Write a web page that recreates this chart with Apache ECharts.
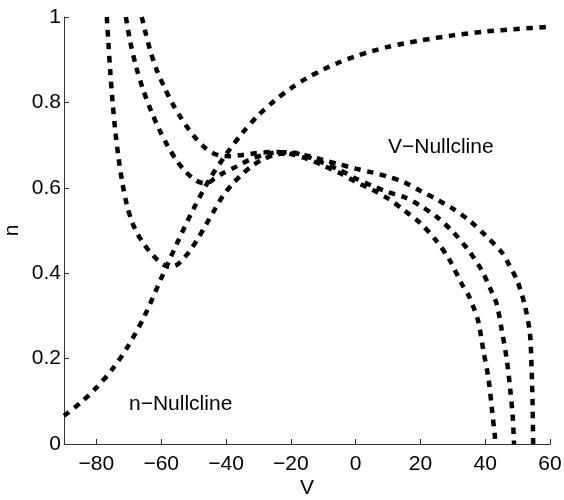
<!DOCTYPE html>
<html>
<head>
<meta charset="utf-8">
<script src="https://cdn.jsdelivr.net/npm/echarts@6/dist/echarts.min.js"></script>
<style>html,body{margin:0;padding:0;background:#fff}#c{width:564px;height:500px}</style>
</head>
<body>
<div id="c"></div>
<script>
// n-nullcline
const nNullV = [-90, -85, -80, -75, -70, -65, -60, -55, -50, -45, -40, -35, -30, -25, -20, -15, -10, -5, 0, 5, 10, 15, 20, 30, 40, 50, 60];
const nNullN = [0.066, 0.096, 0.132, 0.176, 0.232, 0.302, 0.388, 0.472, 0.551, 0.621, 0.678, 0.728, 0.77, 0.804, 0.833, 0.857, 0.877, 0.894, 0.908, 0.92, 0.93, 0.938, 0.945, 0.957, 0.966, 0.972, 0.977];

// V-nullcline A (lowest minimum, crosses n=0 near 55)
const vA = [-76.8, -76.3, -75.7, -75.0, -74.2, -73.2, -72.0, -70.6, -69.0, -67.3, -65.5, -63.5, -61, -59, -57.3, -55.5, -53.7, -51.5, -49, -46, -43.4, -40.8, -38, -35, -32, -29, -25, -20, -15, -10, -5, 0, 5, 10, 15, 20, 25, 30, 35, 40, 45, 47, 50, 52.3, 53.8, 54.3, 54.6, 54.8];
const nA = [1.0, 0.94, 0.87, 0.80, 0.735, 0.672, 0.612, 0.56, 0.52, 0.492, 0.47, 0.45, 0.43, 0.419, 0.415, 0.418, 0.429, 0.449, 0.477, 0.516, 0.55, 0.583, 0.609, 0.632, 0.651, 0.665, 0.677, 0.681, 0.675, 0.665, 0.655, 0.645, 0.636, 0.626, 0.613, 0.593, 0.573, 0.551, 0.524, 0.489, 0.45, 0.425, 0.38, 0.322, 0.259, 0.181, 0.103, 0.0];

// V-nullcline B (middle, crosses n=0 near 49)
const vB = [-70.9, -69.5, -67.8, -65.5, -63, -60.5, -58, -55.5, -52.5, -49.5, -47, -45.5, -43.5, -41, -38, -35, -32, -28, -24, -20, -15, -10, -5, 0, 5, 10, 15, 20, 25, 30, 35, 38.9, 41.5, 43.5, 45.1, 46.6, 47.7, 48.5, 48.9];
const nB = [1.0, 0.94, 0.885, 0.828, 0.778, 0.735, 0.698, 0.667, 0.638, 0.618, 0.611, 0.612, 0.622, 0.634, 0.645, 0.657, 0.668, 0.678, 0.683, 0.683, 0.673, 0.658, 0.642, 0.622, 0.605, 0.59, 0.578, 0.558, 0.532, 0.497, 0.452, 0.407, 0.365, 0.329, 0.267, 0.201, 0.13, 0.064, 0.0];

// V-nullcline C (highest minimum, crosses n=0 near 43)
const vC = [-66, -65, -63.5, -61.5, -59, -56.5, -54, -51.5, -49, -46.5, -44, -41.5, -39, -36, -32, -28, -24, -20, -15, -10, -5, 0, 5, 10, 15, 20, 25, 29, 32.7, 34.8, 36.3, 37.9, 39.4, 41, 42, 43, 43.2];
const nC = [1.0, 0.968, 0.925, 0.878, 0.835, 0.797, 0.765, 0.737, 0.713, 0.694, 0.681, 0.675, 0.674, 0.676, 0.68, 0.683, 0.684, 0.679, 0.668, 0.652, 0.635, 0.614, 0.596, 0.575, 0.547, 0.517, 0.475, 0.431, 0.376, 0.349, 0.322, 0.286, 0.22, 0.154, 0.087, 0.017, 0.0];

const xTicks = [-80, -60, -40, -20, 0, 20, 40, 60];
const yTicks = [0, 0.2, 0.4, 0.6, 0.8, 1];

const zip = (xs, ys) => xs.map((x, i) => [x, ys[i]]);
const FONT = 'Liberation Sans, Arial, Helvetica, sans-serif';
const fmt = v => String(v).replace('-', '\u2212');

const lineSeries = (xs, ys) => ({
  type: 'line',
  data: zip(xs, ys),
  showSymbol: false,
  symbol: 'none',
  smooth: 0.3,
  lineStyle: { color: '#000', width: 4.5, type: [6.5, 6.5], cap: 'butt' },
  silent: true,
  animation: false
});

const chart = echarts.init(document.getElementById('c'), null, { renderer: 'canvas' });
chart.setOption({
  animation: false,
  backgroundColor: '#fff',
  grid: { left: 64, right: 14, top: 17, bottom: 56, containLabel: false, outerBoundsMode: 'none' },
  xAxis: {
    type: 'value', min: -90, max: 60,
    name: 'V', nameLocation: 'middle', nameGap: 34, nameMoveOverlap: false,
    nameTextStyle: { fontFamily: FONT, fontSize: 21, color: '#000' },
    axisLine: { show: true, onZero: false, lineStyle: { color: '#333', width: 1 } },
    axisTick: { show: true, inside: true, length: 5, customValues: xTicks, lineStyle: { color: '#333' } },
    axisLabel: { customValues: xTicks, formatter: fmt, fontFamily: FONT, fontSize: 21, color: '#000', margin: 10 },
    splitLine: { show: false }
  },
  yAxis: {
    type: 'value', min: 0, max: 1, interval: 0.2,
    name: 'n', nameLocation: 'middle', nameGap: 41, nameMoveOverlap: false,
    nameTextStyle: { fontFamily: FONT, fontSize: 21, color: '#000' },
    axisLine: { show: true, onZero: false, lineStyle: { color: '#333', width: 1 } },
    axisTick: { show: true, inside: true, length: 5, customValues: yTicks, lineStyle: { color: '#333' } },
    axisLabel: { customValues: yTicks, formatter: fmt, fontFamily: FONT, fontSize: 21, color: '#000', margin: 3 },
    splitLine: { show: false }
  },
  graphic: [
    { type: 'text', left: 388, top: 137, style: { text: 'V\u2212Nullcline', font: '21px ' + FONT, fill: '#000' } },
    { type: 'text', left: 129, top: 394, style: { text: 'n\u2212Nullcline', font: '21px ' + FONT, fill: '#000' } }
  ],
  series: [
    lineSeries(nNullV, nNullN),
    lineSeries(vA, nA),
    lineSeries(vB, nB),
    lineSeries(vC, nC)
  ]
});
</script>
</body>
</html>
